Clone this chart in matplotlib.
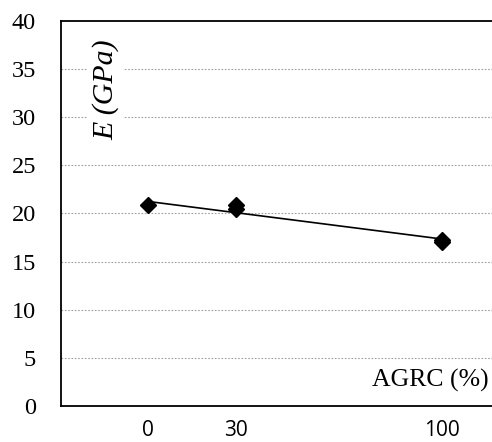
import matplotlib.pyplot as plt
import numpy as np

# data
agrc = [0, 30, 30, 100, 100]
modulus = [20.9, 20.9, 20.5, 17.2, 17.0]
trend_x = [0, 100]
trend_y = [21.25, 17.35]
yticks = [0, 5, 10, 15, 20, 25, 30, 35, 40]
xticks = [0, 30, 100]

fig = plt.figure(figsize=(4.92, 4.42), dpi=100)
ax = fig.add_axes([0.124, 0.081, 0.876, 0.872])

ax.plot(trend_x, trend_y, '-', color='black', lw=1.2, zorder=3)
ax.plot(agrc, modulus, 'D', color='black', ms=8.5, mec='black', zorder=4)

ax.set_xlim(-29.6, 117)
ax.set_ylim(0, 40)
ax.set_yticks(yticks)
ax.set_xticks(xticks)
ax.set_yticklabels([str(v) for v in yticks], fontfamily='Liberation Serif', fontsize=17.5)
ax.set_xticklabels([str(v) for v in xticks], fontfamily='Open Sans', fontsize=15)
ax.tick_params(axis='both', length=0)
ax.tick_params(axis='y', pad=18)
ax.tick_params(axis='x', pad=10)

# dotted grid only for the inner lines
for v in yticks[1:-1]:
    ax.axhline(v, color='#a0a0a0', lw=0.8, ls=(0, (1.5, 1.5)), zorder=1)

for s in ['left', 'bottom', 'top']:
    ax.spines[s].set_linewidth(1.3)
ax.spines['right'].set_visible(False)

ax.text(0.992, 0.068, 'AGRC (%)', transform=ax.transAxes, ha='right', va='center',
        fontfamily='Liberation Serif', fontsize=18.5)
ax.text(0.104, 0.82, 'E (GPa)', transform=ax.transAxes, rotation=90,
        ha='center', va='center', fontfamily='Liberation Serif', fontsize=21.5,
        fontstyle='italic', zorder=5,
        bbox=dict(facecolor='white', edgecolor='none', pad=3))

fig.savefig('out.png', dpi=100)
